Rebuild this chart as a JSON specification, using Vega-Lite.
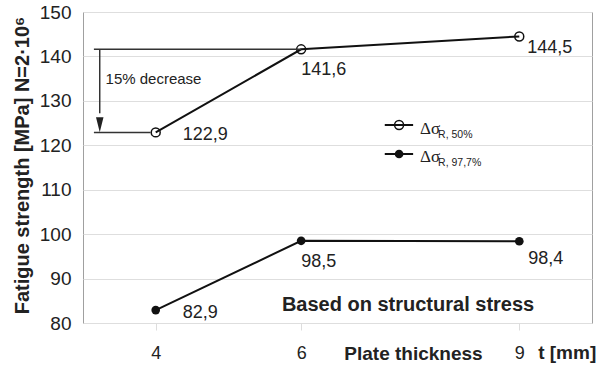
{
  "$schema": "https://vega.github.io/schema/vega-lite/v6.json",
  "width": 509,
  "height": 311,
  "autosize": {"type": "none"},
  "padding": {"left": 83, "top": 12, "right": 7, "bottom": 42},
  "config": {
    "font": "Liberation Sans",
    "view": {"stroke": "#a0a0a0", "strokeWidth": 1},
    "locale": {"number": {"decimal": ",", "thousands": ".", "grouping": [3], "currency": ["", " €"]}}
  },
  "datasets": {
    "main": [
      {"t": 4, "v": 122.9, "series": "50%"},
      {"t": 6, "v": 141.6, "series": "50%"},
      {"t": 9, "v": 144.5, "series": "50%"},
      {"t": 4, "v": 82.9, "series": "97.7%"},
      {"t": 6, "v": 98.5, "series": "97.7%"},
      {"t": 9, "v": 98.4, "series": "97.7%"}
    ],
    "hlines": [
      {"t": 3.15, "t2": 6, "v": 141.6},
      {"t": 3.15, "t2": 3.93, "v": 122.9}
    ],
    "arrow": [{"t": 3.23, "v": 141.6, "v2": 127.2}],
    "arrowhead": [{"t": 3.23, "v": 124.6}],
    "note": [{"t": 3.31, "v": 134.9, "text": "15% decrease"}],
    "basis": [{"t": 7.47, "v": 84.05, "text": "Based on structural stress"}],
    "unit": [{"t": 9.26, "v": 71.9, "text": "t [mm]"}],
    "keyrows": [
      {"t": 7.15, "t2": 7.54, "tm": 7.347, "tl": 7.635, "ts": 7.883, "v": 124.56, "series": "50%", "sub": "R, 50%"},
      {"t": 7.15, "t2": 7.54, "tm": 7.347, "tl": 7.635, "ts": 7.883, "v": 118.04, "series": "97.7%", "sub": "R, 97,7%"}
    ]
  },
  "encoding": {
    "x": {
      "field": "t",
      "type": "quantitative",
      "scale": {"domain": [3, 10], "nice": false, "zero": false},
      "axis": {
        "values": [4, 6, 9],
        "grid": false,
        "domain": false,
        "ticks": true,
        "tickSize": 7,
        "tickColor": "#dddddd",
        "labelPadding": 14,
        "labelFontSize": 18,
        "labelColor": "#222222",
        "title": "Plate thickness",
        "titleFontSize": 19,
        "titleFontWeight": "bold",
        "titleColor": "#222222",
        "titleX": 330,
        "titleY": 36,
        "titleAlign": "center",
        "titleBaseline": "alphabetic"
      }
    },
    "y": {
      "field": "v",
      "type": "quantitative",
      "scale": {"domain": [80, 150], "nice": false, "zero": false},
      "axis": {
        "values": [80, 90, 100, 110, 120, 130, 140, 150],
        "grid": true,
        "gridColor": "#dedede",
        "gridWidth": 1,
        "domain": false,
        "ticks": false,
        "labelPadding": 12,
        "labelFontSize": 19,
        "labelColor": "#222222",
        "title": "Fatigue strength [MPa] N=2·10⁶",
        "titleFontSize": 20,
        "titleFontWeight": "bold",
        "titleColor": "#222222",
        "titleX": -61,
        "titleY": 153,
        "titleAlign": "center",
        "titleBaseline": "middle",
        "titleAngle": -90
      }
    }
  },
  "layer": [
    {
      "data": {"name": "main"},
      "mark": {"type": "line", "color": "#111111", "strokeWidth": 2},
      "encoding": {"detail": {"field": "series", "type": "nominal"}}
    },
    {
      "data": {"name": "main"},
      "transform": [{"filter": "datum.series === '50%'"}],
      "mark": {"type": "point", "shape": "circle", "filled": false, "size": 80, "stroke": "#111111", "strokeWidth": 1.5, "opacity": 1}
    },
    {
      "data": {"name": "main"},
      "transform": [{"filter": "datum.series === '97.7%'"}],
      "mark": {"type": "circle", "size": 75, "color": "#111111", "opacity": 1}
    },
    {
      "data": {"name": "main"},
      "transform": [{"filter": "datum.t === 4"}],
      "mark": {"type": "text", "align": "left", "baseline": "middle", "dx": 27, "dy": 3, "fontSize": 18, "color": "#222222"},
      "encoding": {"text": {"field": "v", "type": "quantitative", "format": ".1f"}}
    },
    {
      "data": {"name": "main"},
      "transform": [{"filter": "datum.t === 6"}],
      "mark": {"type": "text", "align": "left", "baseline": "middle", "dx": 0, "dy": 21, "fontSize": 18, "color": "#222222"},
      "encoding": {"text": {"field": "v", "type": "quantitative", "format": ".1f"}}
    },
    {
      "data": {"name": "main"},
      "transform": [{"filter": "datum.t === 9 && datum.series === '50%'"}],
      "mark": {"type": "text", "align": "left", "baseline": "middle", "dx": 8, "dy": 12, "fontSize": 18, "color": "#222222"},
      "encoding": {"text": {"field": "v", "type": "quantitative", "format": ".1f"}}
    },
    {
      "data": {"name": "main"},
      "transform": [{"filter": "datum.t === 9 && datum.series === '97.7%'"}],
      "mark": {"type": "text", "align": "left", "baseline": "middle", "dx": 9, "dy": 18, "fontSize": 18, "color": "#222222"},
      "encoding": {"text": {"field": "v", "type": "quantitative", "format": ".1f"}}
    },
    {
      "data": {"name": "hlines"},
      "mark": {"type": "rule", "color": "#333333", "strokeWidth": 1.5},
      "encoding": {"x2": {"field": "t2"}}
    },
    {
      "data": {"name": "arrow"},
      "mark": {"type": "rule", "color": "#333333", "strokeWidth": 1.5},
      "encoding": {"y2": {"field": "v2"}}
    },
    {
      "data": {"name": "arrowhead"},
      "mark": {"type": "point", "shape": "M-0.5,-1L0.5,-1L0,1Z", "filled": true, "size": 225, "color": "#222222", "opacity": 1}
    },
    {
      "data": {"name": "note"},
      "mark": {"type": "text", "align": "left", "baseline": "middle", "fontSize": 15, "color": "#222222"},
      "encoding": {"text": {"field": "text"}}
    },
    {
      "data": {"name": "basis"},
      "mark": {"type": "text", "align": "center", "baseline": "middle", "fontSize": 20, "fontWeight": "bold", "color": "#222222"},
      "encoding": {"text": {"field": "text"}}
    },
    {
      "data": {"name": "unit"},
      "mark": {"type": "text", "align": "left", "baseline": "alphabetic", "fontSize": 19, "fontWeight": "bold", "color": "#222222"},
      "encoding": {"text": {"field": "text"}}
    },
    {
      "data": {"name": "keyrows"},
      "mark": {"type": "rule", "color": "#111111", "strokeWidth": 2},
      "encoding": {"x2": {"field": "t2"}}
    },
    {
      "data": {"name": "keyrows"},
      "transform": [{"filter": "datum.series === '50%'"}],
      "mark": {"type": "point", "shape": "circle", "filled": false, "size": 80, "stroke": "#111111", "strokeWidth": 1.5, "opacity": 1},
      "encoding": {"x": {"field": "tm", "type": "quantitative"}}
    },
    {
      "data": {"name": "keyrows"},
      "transform": [{"filter": "datum.series === '97.7%'"}],
      "mark": {"type": "circle", "size": 75, "color": "#111111", "opacity": 1},
      "encoding": {"x": {"field": "tm", "type": "quantitative"}}
    },
    {
      "data": {"name": "keyrows"},
      "mark": {"type": "text", "align": "left", "baseline": "middle", "dy": 3.5, "fontSize": 17, "font": "Liberation Serif", "color": "#222222", "text": "Δσ"},
      "encoding": {"x": {"field": "tl", "type": "quantitative"}}
    },
    {
      "data": {"name": "keyrows"},
      "mark": {"type": "text", "align": "left", "baseline": "middle", "dy": 9.5, "fontSize": 10.5, "color": "#222222"},
      "encoding": {"x": {"field": "ts", "type": "quantitative"}, "text": {"field": "sub"}}
    }
  ]
}
